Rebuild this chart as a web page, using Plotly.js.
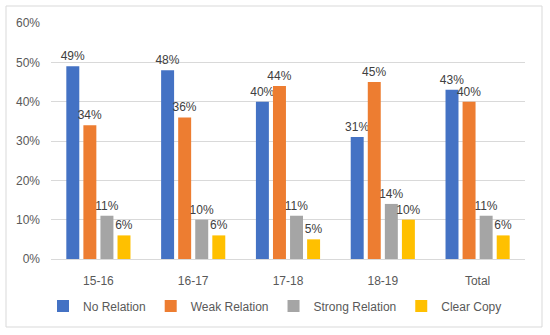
<!DOCTYPE html>
<html>
<head>
<meta charset="utf-8">
<script src="https://cdn.plot.ly/plotly-3.0.1.min.js"></script>
<style>html,body{margin:0;padding:0;background:#fff;}#chart{width:550px;height:335px;}</style>
</head>
<body>
<div id="chart"></div>
<script>
const categories = ["15-16", "16-17", "17-18", "18-19", "Total"];
const noRelation = [49, 48, 40, 31, 43];
const weakRelation = [34, 36, 44, 45, 40];
const strongRelation = [11, 10, 11, 14, 11];
const clearCopy = [6, 6, 5, 10, 6];
const seriesNames = ["No Relation", "Weak Relation", "Strong Relation", "Clear Copy"];
const seriesColors = ["#4472C4", "#ED7D31", "#A5A5A5", "#FFC000"];
const seriesValues = [noRelation, weakRelation, strongRelation, clearCopy];

const FONT = "Liberation Sans, Arial, sans-serif";
const traces = seriesValues.map((vals, i) => ({
  type: "bar",
  name: seriesNames[i],
  x: categories,
  y: vals,
  marker: {color: seriesColors[i]},
  text: vals.map(v => v + "%"),
  textposition: "outside",
  constraintext: "none",
  cliponaxis: false,
  textfont: {family: FONT, size: 12, color: "#404040"},
  hoverinfo: "none"
}));

// plot area px: x 51..525, y 23..259
const L = 51, R = 525, T = 23, B = 259;
const px = x => (x - L) / (R - L);
const py = y => (B - y) / (B - T);

const layout = {
  width: 550, height: 335,
  margin: {l: L, r: 550 - R, t: T, b: 335 - B, pad: 0},
  paper_bgcolor: "#ffffff", plot_bgcolor: "#ffffff",
  barmode: "group", bargap: 0.28, bargroupgap: 0.24,
  font: {family: FONT, size: 12, color: "#595959"},
  showlegend: true,
  legend: {orientation: "h", xref: "container", x: 0.5, xanchor: "center",
           yref: "container", y: (335 - 306) / 335, yanchor: "middle",
           font: {family: FONT, size: 12, color: "#595959"}, traceorder: "normal"},
  xaxis: {type: "category", showgrid: false, showline: true, linecolor: "#d9d9d9", linewidth: 1,
          ticks: "", ticklabelstandoff: 11, tickfont: {family: FONT, size: 12, color: "#595959"}},
  yaxis: {range: [0, 60], dtick: 10, ticksuffix: "%", showgrid: true, gridcolor: "#d9d9d9",
          gridwidth: 1, zeroline: false, showline: false, ticks: "", ticklabelstandoff: 10,
          tickfont: {family: FONT, size: 12, color: "#595959"}},
  shapes: [{type: "rect", xref: "paper", yref: "paper", x0: px(6), x1: px(542), y0: py(327), y1: py(6),
            line: {color: "#d9d9d9", width: 1}, fillcolor: "rgba(0,0,0,0)", layer: "below"}]
};

Plotly.newPlot("chart", traces, layout, {staticPlot: true, displayModeBar: false});
</script>
</body>
</html>
